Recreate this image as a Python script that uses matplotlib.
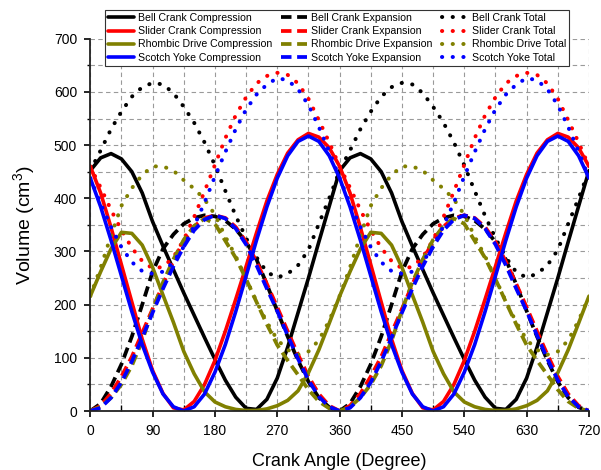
import matplotlib
matplotlib.use("Agg")
import matplotlib.pyplot as plt
from matplotlib.ticker import MultipleLocator

plt.rcParams['font.family'] = ['Liberation Sans', 'DejaVu Sans']
plt.rcParams['mathtext.default'] = 'regular'

# crank angle samples (degree), two full revolutions
angle = list(range(0, 721, 15))

# Bell crank volumes (cm^3)
bell_comp = [452, 476, 484, 474, 450, 410, 356, 310, 266, 222, 180, 138, 97, 58, 26, 5, 3, 22, 62, 120, 185, 250, 318, 385,
             452, 476, 484, 474, 450, 410, 356, 310, 266, 222, 180, 138, 97, 58, 26, 5, 3, 22, 62, 120, 185, 250, 318, 385, 452]
bell_exp = [0, 14, 46, 88, 140, 200, 262, 305, 332, 352, 363, 368, 366, 358, 342, 318, 285, 238, 188, 140, 95, 55, 25, 7,
            0, 14, 46, 88, 140, 200, 262, 305, 332, 352, 363, 368, 366, 358, 342, 318, 285, 238, 188, 140, 95, 55, 25, 7, 0]
bell_total = [452, 490, 530, 563, 591, 609, 617, 614, 598, 572, 542, 505, 462, 414, 367, 325, 289, 261, 251, 258, 274, 303, 352, 400,
              452, 490, 530, 563, 591, 609, 617, 614, 598, 572, 542, 505, 462, 414, 367, 325, 289, 261, 251, 258, 274, 303, 352, 400, 452]

# Slider crank volumes
slider_comp = [460, 410, 345, 275, 205, 135, 76, 33, 6, 2, 18, 50, 95, 150, 210, 272, 335, 395, 445, 485, 510, 522, 515, 495,
               460, 410, 345, 275, 205, 135, 76, 33, 6, 2, 18, 50, 95, 150, 210, 272, 335, 395, 445, 485, 510, 522, 515, 495, 460]
slider_exp = [0, 10, 33, 65, 102, 147, 192, 238, 283, 320, 347, 363, 368, 363, 346, 318, 281, 239, 195, 150, 106, 65, 32, 10,
              0, 10, 33, 65, 102, 147, 192, 238, 283, 320, 347, 363, 368, 363, 346, 318, 281, 239, 195, 150, 106, 65, 32, 10, 0]
slider_total = [460, 420, 378, 340, 307, 282, 268, 271, 289, 322, 365, 413, 463, 513, 556, 590, 616, 630, 636, 632, 616, 587, 547, 505,
                460, 420, 378, 340, 307, 282, 268, 271, 289, 322, 365, 413, 463, 513, 556, 590, 616, 630, 636, 632, 616, 587, 547, 505, 460]

# Rhombic drive volumes
rhombic_comp = [216, 262, 305, 336, 334, 312, 270, 218, 167, 112, 70, 36, 17, 8, 3, 1, 1, 4, 10, 20, 38, 72, 115, 165,
                216, 262, 305, 336, 334, 312, 270, 218, 167, 112, 70, 36, 17, 8, 3, 1, 1, 4, 10, 20, 38, 72, 115, 165, 216]
rhombic_exp = [0, 8, 25, 50, 85, 132, 190, 242, 285, 322, 348, 362, 352, 320, 288, 248, 205, 163, 124, 95, 68, 40, 18, 5,
               0, 8, 25, 50, 85, 132, 190, 242, 285, 322, 348, 362, 352, 320, 288, 248, 205, 163, 124, 95, 68, 40, 18, 5, 0]
rhombic_total = [216, 270, 330, 386, 419, 444, 460, 460, 452, 434, 418, 398, 369, 328, 291, 249, 206, 167, 134, 115, 106, 112, 133, 170,
                 216, 270, 330, 386, 419, 444, 460, 460, 452, 434, 418, 398, 369, 328, 291, 249, 206, 167, 134, 115, 106, 112, 133, 170, 216]

# Scotch yoke volumes
scotch_comp = [438, 384, 321, 254, 187, 125, 73, 32, 8, 0, 8, 32, 73, 125, 187, 254, 321, 384, 438, 480, 507, 517, 507, 480,
               438, 384, 321, 254, 187, 125, 73, 32, 8, 0, 8, 32, 73, 125, 187, 254, 321, 384, 438, 480, 507, 517, 507, 480, 438]
scotch_exp = [0, 6, 25, 54, 93, 138, 185, 230, 272, 309, 340, 360, 368, 362, 343, 313, 274, 230, 188, 142, 98, 58, 27, 8,
              0, 6, 25, 54, 93, 138, 185, 230, 272, 309, 340, 360, 368, 362, 343, 313, 274, 230, 188, 142, 98, 58, 27, 8, 0]
scotch_total = [438, 390, 346, 308, 280, 263, 258, 262, 280, 309, 348, 392, 441, 487, 530, 567, 595, 614, 626, 622, 605, 575, 534, 488,
                438, 390, 346, 308, 280, 263, 258, 262, 280, 309, 348, 392, 441, 487, 530, 567, 595, 614, 626, 622, 605, 575, 534, 488, 438]

mechanisms = ['Bell Crank', 'Slider Crank', 'Rhombic Drive', 'Scotch Yoke']
colors = ['#000000', '#ff0000', '#808000', '#0000ff']
series = [
    (bell_comp, bell_exp, bell_total),
    (slider_comp, slider_exp, slider_total),
    (rhombic_comp, rhombic_exp, rhombic_total),
    (scotch_comp, scotch_exp, scotch_total),
]

fig = plt.figure(figsize=(6.01, 4.70), dpi=100)
ax = fig.add_axes([0.1502, 0.1255, 0.8298, 0.7921])

LW = 2.6
solid_style = dict(linestyle='-', linewidth=LW, solid_capstyle='round', solid_joinstyle='round')
dash_style = dict(linestyle=(0, (2.8, 1.5)), linewidth=LW + 0.1, dash_capstyle='butt')
dot_style = dict(linestyle=(0, (0.05, 2.6)), linewidth=LW + 0.3, dash_capstyle='round')

comp_h, exp_h, tot_h = [], [], []
for name, col, (c, e, t) in zip(mechanisms, colors, series):
    h1, = ax.plot(angle, c, color=col, label=f'{name} Compression', **solid_style)
    h2, = ax.plot(angle, e, color=col, label=f'{name} Expansion', **dash_style)
    h3, = ax.plot(angle, t, color=col, label=f'{name} Total', **dot_style)
    comp_h.append(h1)
    exp_h.append(h2)
    tot_h.append(h3)

ax.set_xlim(0, 720)
ax.set_ylim(0, 700)
ax.xaxis.set_major_locator(MultipleLocator(90))
ax.xaxis.set_minor_locator(MultipleLocator(45))
ax.yaxis.set_major_locator(MultipleLocator(100))
ax.yaxis.set_minor_locator(MultipleLocator(50))

ax.set_axisbelow(True)
ax.grid(which='both', color='#9a9a9a', linestyle=(0, (4, 3)), linewidth=0.8)

for side in ('top', 'right'):
    ax.spines[side].set_visible(False)
for side in ('left', 'bottom'):
    ax.spines[side].set_linewidth(1.3)
    ax.spines[side].set_color('#222222')

ax.tick_params(axis='x', which='major', direction='out', length=4, width=1.2, pad=5, labelsize=10)
ax.tick_params(axis='x', which='minor', direction='in', length=4, width=1.0)
ax.tick_params(axis='y', which='major', direction='out', length=4.5, width=1.2, pad=5, labelsize=10)
ax.tick_params(axis='y', which='minor', direction='out', length=2.5, width=1.0)

ax.set_xlabel('Crank Angle (Degree)', fontsize=13, labelpad=11)
ax.set_ylabel('Volume (cm$^{3}$)', fontsize=14, labelpad=12)

handles = comp_h + exp_h + tot_h
leg = fig.legend(handles, [h.get_label() for h in handles], ncol=3,
                 loc='upper left', bbox_to_anchor=(105 / 601, 1 - 10 / 470),
                 bbox_transform=fig.transFigure, fontsize=7.6,
                 handlelength=2.46, handletextpad=0.38, columnspacing=0.85,
                 labelspacing=0.3, borderpad=0.3, borderaxespad=0,
                 frameon=True, fancybox=False, framealpha=1, edgecolor='#333333')
leg.get_frame().set_linewidth(0.8)

fig.savefig('out.png', dpi=100)
